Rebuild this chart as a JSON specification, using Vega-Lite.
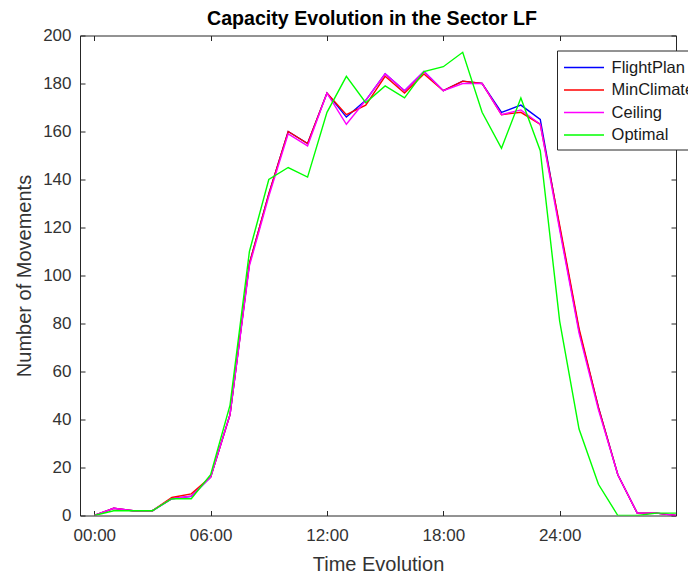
{
  "$schema": "https://vega.github.io/schema/vega-lite/v6.json",
  "width": 596,
  "height": 480,
  "autosize": {"type": "none"},
  "padding": {"left": 80, "top": 35.5, "right": 12, "bottom": 60.5},
  "background": "white",
  "title": {"text": "Capacity Evolution in the Sector LF", "font": "Liberation Sans", "fontSize": 19.6, "fontWeight": "bold", "color": "#000000", "anchor": "middle", "offset": -3, "dx": -6},
  "config": {
    "view": {"stroke": "#262626", "strokeWidth": 1},
    "axis": {"grid": false, "domain": false, "tickColor": "#262626", "tickSize": -5, "tickWidth": 1, "labelFont": "Liberation Sans", "labelFontSize": 17, "labelColor": "#333333", "titleFont": "Liberation Sans", "titleFontSize": 20, "titleFontWeight": "normal", "titleColor": "#333333"}
  },
  "data": {"values": [
    {"h": 0, "FlightPlan": 0, "MinClimate": 0, "Ceiling": 0, "Optimal": 0},
    {"h": 1, "FlightPlan": 3, "MinClimate": 3, "Ceiling": 3, "Optimal": 2},
    {"h": 2, "FlightPlan": 2, "MinClimate": 2, "Ceiling": 2, "Optimal": 2},
    {"h": 3, "FlightPlan": 2, "MinClimate": 2, "Ceiling": 2, "Optimal": 2},
    {"h": 4, "FlightPlan": 7, "MinClimate": 7.5, "Ceiling": 7, "Optimal": 7},
    {"h": 5, "FlightPlan": 8, "MinClimate": 9, "Ceiling": 8, "Optimal": 7},
    {"h": 6, "FlightPlan": 16, "MinClimate": 16, "Ceiling": 16, "Optimal": 17},
    {"h": 7, "FlightPlan": 42, "MinClimate": 42, "Ceiling": 42, "Optimal": 46},
    {"h": 8, "FlightPlan": 105, "MinClimate": 105, "Ceiling": 104, "Optimal": 110},
    {"h": 9, "FlightPlan": 134, "MinClimate": 134, "Ceiling": 133, "Optimal": 140},
    {"h": 10, "FlightPlan": 160, "MinClimate": 160, "Ceiling": 159, "Optimal": 145},
    {"h": 11, "FlightPlan": 155, "MinClimate": 155, "Ceiling": 154, "Optimal": 141},
    {"h": 12, "FlightPlan": 176, "MinClimate": 176, "Ceiling": 176, "Optimal": 168},
    {"h": 13, "FlightPlan": 166, "MinClimate": 167, "Ceiling": 163, "Optimal": 183},
    {"h": 14, "FlightPlan": 173, "MinClimate": 171, "Ceiling": 173, "Optimal": 172},
    {"h": 15, "FlightPlan": 184, "MinClimate": 183, "Ceiling": 184, "Optimal": 179},
    {"h": 16, "FlightPlan": 177, "MinClimate": 176, "Ceiling": 177, "Optimal": 174},
    {"h": 17, "FlightPlan": 185, "MinClimate": 184, "Ceiling": 185, "Optimal": 185},
    {"h": 18, "FlightPlan": 177, "MinClimate": 177, "Ceiling": 177, "Optimal": 187},
    {"h": 19, "FlightPlan": 181, "MinClimate": 181, "Ceiling": 180, "Optimal": 193},
    {"h": 20, "FlightPlan": 180, "MinClimate": 180, "Ceiling": 180, "Optimal": 168},
    {"h": 21, "FlightPlan": 168, "MinClimate": 167, "Ceiling": 167, "Optimal": 153},
    {"h": 22, "FlightPlan": 171, "MinClimate": 168, "Ceiling": 169, "Optimal": 174},
    {"h": 23, "FlightPlan": 165, "MinClimate": 163, "Ceiling": 163, "Optimal": 152},
    {"h": 24, "FlightPlan": 120, "MinClimate": 121, "Ceiling": 119, "Optimal": 81},
    {"h": 25, "FlightPlan": 77, "MinClimate": 78, "Ceiling": 76, "Optimal": 36},
    {"h": 26, "FlightPlan": 45, "MinClimate": 45, "Ceiling": 44, "Optimal": 13},
    {"h": 27, "FlightPlan": 17, "MinClimate": 17, "Ceiling": 17, "Optimal": 0},
    {"h": 28, "FlightPlan": 1, "MinClimate": 1, "Ceiling": 1, "Optimal": 0},
    {"h": 29, "FlightPlan": 1, "MinClimate": 1, "Ceiling": 1, "Optimal": 1},
    {"h": 30, "FlightPlan": 0, "MinClimate": 0, "Ceiling": 0, "Optimal": 1}
  ]},
  "transform": [{"fold": ["FlightPlan", "MinClimate", "Ceiling", "Optimal"], "as": ["series", "value"]}],
  "layer": [
    {
      "mark": {"type": "line", "strokeWidth": 1.4, "clip": true},
      "encoding": {
        "x": {"field": "h", "type": "quantitative", "scale": {"domain": [-0.737, 30], "nice": false, "zero": false},
              "axis": {"orient": "bottom", "title": "Time Evolution", "values": [0, 6, 12, 18, 24, 30], "labelPadding": 17, "titlePadding": 11,
                       "labelExpr": "datum.value == 30 ? '' : (datum.value < 10 ? '0' : '') + datum.value + ':00'"}},
        "y": {"field": "value", "type": "quantitative", "scale": {"domain": [0, 200], "nice": false},
              "axis": {"orient": "left", "title": "Number of Movements", "values": [0, 20, 40, 60, 80, 100, 120, 140, 160, 180, 200], "labelPadding": 14, "titlePadding": 8}},
        "color": {"field": "series", "type": "nominal",
                  "scale": {"domain": ["FlightPlan", "MinClimate", "Ceiling", "Optimal"], "range": ["#0000ff", "#ff0000", "#ff00ff", "#00ff00"]},
                  "legend": {"title": null, "orient": "none", "legendX": 477, "legendY": 15, "symbolType": "M-1,0L3,0", "symbolSize": 400, "symbolStrokeWidth": 1.5,
                             "labelFont": "Liberation Sans", "labelFontSize": 16.5, "labelColor": "#1a1a1a", "labelOffset": 26.6, "rowPadding": 2.5,
                             "padding": 6, "fillColor": "white", "strokeColor": "#262626", "labelLimit": 300}}
      }
    },
    {
      "mark": {"type": "point", "opacity": 0},
      "encoding": {
        "x": {"field": "h", "type": "quantitative", "scale": {"domain": [-0.737, 30], "nice": false, "zero": false},
              "axis": {"orient": "top", "title": null, "labels": false, "values": [0, 6, 12, 18, 24, 30]}},
        "y": {"field": "value", "type": "quantitative", "scale": {"domain": [0, 200], "nice": false},
              "axis": {"orient": "right", "title": null, "labels": false, "values": [0, 20, 40, 60, 80, 100, 120, 140, 160, 180, 200]}}
      }
    }
  ],
  "resolve": {"axis": {"x": "independent", "y": "independent"}}
}
